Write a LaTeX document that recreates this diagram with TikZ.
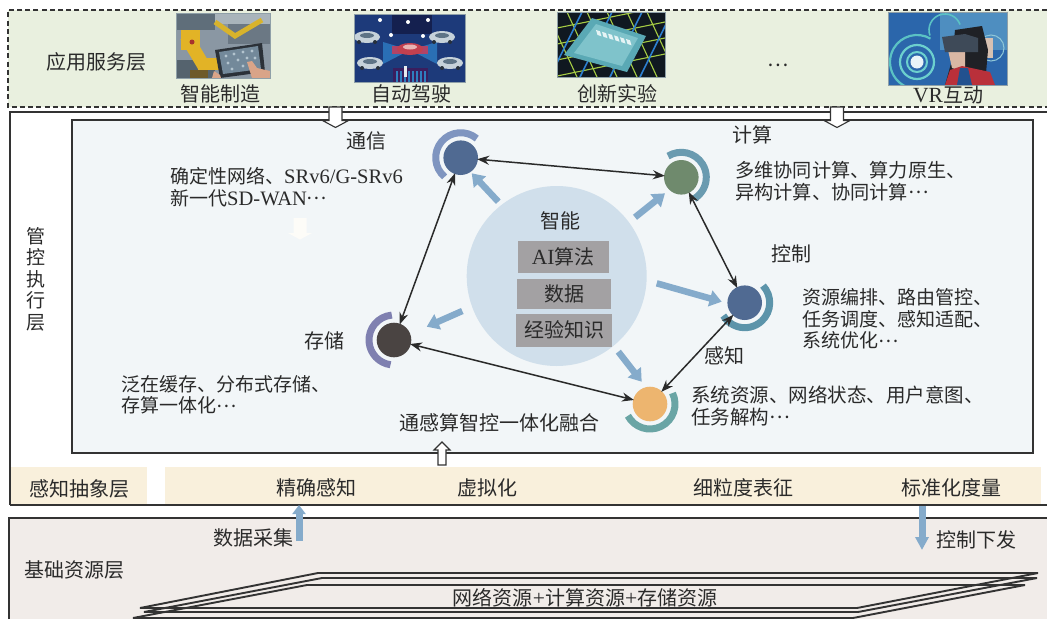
\documentclass[tikz,border=0pt]{standalone}
\usepackage{fontspec}
\usetikzlibrary{arrows.meta,calc}
\setmainfont[Scale=1.08]{Liberation Serif}
\newfontfamily\cjk{Noto Sans CJK SC}
\newcommand{\C}[1]{{\cjk #1}}
\newcommand{\Dots}{\raisebox{.27em}{\C{…}}}
\definecolor{txtc}{HTML}{2A2A2A}
\definecolor{linec}{HTML}{333333}
\definecolor{appbg}{HTML}{E9F0DF}
\definecolor{innerbg}{HTML}{F2F6F8}
\definecolor{barbg}{HTML}{F9F0DC}
\definecolor{basebg}{HTML}{F1ECE9}
\definecolor{bluearrow}{HTML}{85ABCB}
\definecolor{bigc}{HTML}{D0DFEB}
\definecolor{greyb}{HTML}{A3A1A3}
\tikzset{
  HTML/.code={\definecolor{tmpc}{HTML}{#1}\pgfkeysalso{color=tmpc}},
  lbl/.style={font=\fontsize{19}{21.5}\selectfont,text=txtc,inner sep=0pt,align=left},
  ttl/.style={font=\fontsize{20}{21.5}\selectfont,text=txtc,inner sep=0pt},
  hub/.style={circle,minimum size=34.6pt,inner sep=0pt,fill,HTML=#1},
  ring/.style={line width=7pt,HTML=#1},
  link/.style={{Stealth[length=12pt,width=9pt]}-{Stealth[length=12pt,width=9pt]},line width=1.5pt,draw=txtc,shorten >=-1pt,shorten <=-1pt},
  flow/.style={-{Triangle[length=12pt,width=16pt]},line width=6.5pt,draw=bluearrow},
  greybox/.style={fill=greyb,inner sep=0pt,font=\fontsize{20}{21.5}\selectfont,text=txtc},
  hollow/.style={draw=linec,line width=1.1pt,fill=white},
  layer/.style={draw=linec,line width=1.9pt,line join=miter},
}
\begin{document}
\begin{tikzpicture}[x=1pt,y=1pt]
\path[use as bounding box] (0,0) rectangle (1047,-619);
\fill[white] (0,0) rectangle (1047,-619);

% application layer
\fill[appbg] (8,-10) rectangle (1047,-107);
\draw[linec,line width=1.5pt,dash pattern=on 5pt off 3.2pt] (1047,-10) -- (8,-10) -- (8,-107) -- (1047,-107);

% outer management frame
\draw[linec,line width=1.5pt] (1047,-112) -- (10,-112) -- (10,-505);
\fill[barbg] (11,-467) rectangle (147,-504);
\fill[barbg] (165,-467) rectangle (1041,-504);
\draw[linec,line width=2.2pt] (10,-505) -- (1047,-505);
\draw[linec,line width=2pt,fill=innerbg] (72,-120) rectangle (1033,-453);

% base layer
\fill[basebg] (9,-518) rectangle (1047,-619);
\draw[linec,line width=2pt] (9,-619) -- (9,-518) -- (1047,-518);

% picture 1
\begin{scope}
\clip (176,-13) rectangle (270,-78);
\fill[HTML=8A97A3] (176,-13) rectangle (270,-78);
\fill[HTML=5F6E7A] (176,-13) rectangle (215,-30);
\fill[HTML=A9B4BB] (215,-13) rectangle (270,-24);
\fill[HTML=55636E] (176,-60) rectangle (215,-78);
\fill[HTML=6B7884] (228,-24) rectangle (270,-44);
\draw[HTML=D8B32C,line width=5pt] (215,-22) -- (235,-36) -- (262,-20);
\draw[HTML=E2B326,line width=13pt] (186,-36) -- (205,-68);
\fill[HTML=E2B326] (181,-30) rectangle (200,-50);
\fill[HTML=A8322C] (192,-42) circle (2.5);
\fill[HTML=E2B326] (198,-58) rectangle (222,-70);
\fill[HTML=6E5A2A] (190,-70) rectangle (208,-78);
\fill[HTML=2B3138] (215,-50) -- (262,-43) -- (265,-72) -- (220,-78) -- cycle;
\fill[HTML=73899A] (219,-52) -- (258,-46) -- (261,-69) -- (223,-74) -- cycle;
\foreach \a/\b in {226/-56,234/-54,243/-52,252/-51,228/-63,238/-60,247/-58,255/-58,232/-69,243/-66}
  \fill[HTML=B3C4CE] (\a,\b) circle (1.7);
\fill[HTML=D9A488] (247,-62) -- (252,-61) -- (257,-68) -- (270,-71) -- (270,-78) -- (252,-78) -- cycle;
\fill[HTML=D9A488] (212,-78) -- (214,-71) -- (220,-75) -- (221,-78) -- cycle;
\end{scope}

% picture 2
\begin{scope}
\clip (354,-14) rectangle (465,-82);
\fill[HTML=1D3A7A] (354,-14) rectangle (465,-82);
\fill[HTML=14204F] (392,-14) rectangle (432,-34);
\fill[HTML=2A6FB5] (410,-50) -- (383,-42) -- (383,-64) -- cycle;
\fill[HTML=2A6FB5] (410,-50) -- (437,-42) -- (437,-64) -- cycle;
\fill[HTML=B04468] (392,-46) rectangle (428,-54);
\fill[HTML=3A1E5E] (393,-68) rectangle (428,-82);
\foreach \a in {396,400,404,408,412,416,420,424}
  \fill[HTML=2E7FBF] (\a,-71) rectangle (\a+1.5,-82);
\foreach \a/\b in {367/-37,442/-37,370/-63,450/-63}{
  \fill[HTML=C6D2DA] (\a,\b) ellipse (13 and 6);
  \fill[HTML=5E7486] (\a,\b+1.5) ellipse (7 and 2.5);
  \fill[HTML=26303C] (\a-8,\b-5) circle (2);
  \fill[HTML=26303C] (\a+8,\b-5) circle (2);
}
\fill[HTML=C2404F] (410,-49) ellipse (13 and 6);
\fill[HTML=E8B4B4] (410,-47) ellipse (7 and 2.5);
\foreach \a/\b in {380/-20,408/-22,428/-20,391/-35,423/-36}
  \fill[white] (\a,\b) circle (2);
\fill[HTML=E8ECEF] (403.5,-66) rectangle (406.5,-77);
\end{scope}

% picture 3
\begin{scope}
\clip (557,-12) rectangle (665,-77);
\fill[HTML=101820] (557,-12) rectangle (665,-77);
\foreach \a in {-10,10,30,50,70,90,110}
  \draw[HTML=A6CC44,line width=1.1pt] (557+\a,-12) -- (557+\a+30,-77);
\foreach \a in {0,16,32,48,64}
  \draw[HTML=A6CC44,line width=1.1pt] (557,-12-\a) -- (665,-12-\a+22);
\foreach \a in {5,35,65,95}
  \draw[HTML=2D7FD0,line width=1.6pt] (557+\a+20,-12) -- (557+\a-12,-77);
\fill[HTML=5AA9B5] (592,-18) -- (646,-36) -- (627,-72) -- (564,-55) -- cycle;
\fill[HTML=7FC3CB] (596,-24) -- (638,-38) -- (622,-66) -- (574,-53) -- cycle;
\foreach \a in {0,6,12,18,24,30}
  \fill[HTML=E6F4F5] (596+\a,-30-0.3*\a) -- ++(4,-1.3) -- ++(1.5,-5) -- ++(-4,1.3) -- cycle;
\end{scope}

% picture 4
\begin{scope}
\clip (888,-12) rectangle (1007,-85);
\fill[HTML=2B66AB] (888,-12) rectangle (1007,-85);
\fill[HTML=4E8EC0] (940,-12) rectangle (1007,-50);
\draw[HTML=6CD0CE,line width=2pt] (917,-62) circle (10);
\draw[HTML=6CD0CE,line width=2.2pt] (917,-62) circle (17);
\draw[HTML=5BC2C4,line width=2.2pt] (917,-62) ++(60:27) arc (60:250:27);
\draw[HTML=5BC2C4,line width=1.6pt] (945,-30) ++(20:16) arc (20:200:16);
\fill[HTML=E9F3F8] (917,-62) circle (6.5);
\fill[HTML=D7C1B2] (985,-38) rectangle (993,-58);
\draw[HTML=8FC7D8,line width=1pt] (991,-48) circle (13);
\fill[HTML=1F2126] (955,-30) -- (982,-26) -- (988,-50) -- (985,-85) -- (945,-85) -- (952,-60) -- cycle;
\fill[HTML=D9B7A4] (948,-50) -- (965,-50) -- (965,-72) -- (952,-68) -- cycle;
\fill[HTML=B9303A] (945,-85) -- (950,-70) -- (962,-66) -- (990,-72) -- (995,-85) -- cycle;
\fill[HTML=22518F] (957,-85) -- (960,-68) -- (968,-68) -- (972,-85) -- cycle;
\fill[HTML=3E4A58] (942,-37) -- (965,-34) -- (978,-38) -- (978,-52) -- (945,-52) -- cycle;
\end{scope}
\foreach \a/\b/\c/\d in {176/13/270/78,354/14/465/82,557/12/665/77,888/12/1007/85}
  \draw[HTML=8FA0A8,line width=.5pt] (\a,-\b) rectangle (\c,-\d);

% application text
\node[ttl] (tapp) at (96.5,-62) {\C{应用服务层}};
\node[ttl] (t1) at (220,-94) {\C{智能制造}};
\node[ttl] (t2) at (411,-94) {\C{自动驾驶}};
\node[ttl] (t3) at (617,-94) {\C{创新实验}};
\node[ttl] (t4) at (948,-95) {VR\C{互动}};
\node[ttl] (tdots) at (778,-65) {\C{…}};

% hollow arrows
\draw[hollow] (329,-107) -- (342,-107) -- (342,-120.5) -- (348.5,-120.5) -- (335.5,-127.5) -- (322.5,-120.5) -- (329,-120.5) -- cycle;
\draw[hollow] (830.5,-107) -- (843.5,-107) -- (843.5,-120.5) -- (850,-120.5) -- (837,-127.5) -- (824,-120.5) -- (830.5,-120.5) -- cycle;
\draw[hollow] (438,-465) -- (446,-465) -- (446,-450) -- (450,-450) -- (442,-442) -- (434,-450) -- (438,-450) -- cycle;

% faint white arrow
\fill[HTML=FDFCF8] (293.5,-218) -- (306.5,-218) -- (306.5,-233) -- (312,-233) -- (300,-239.5) -- (288,-233) -- (293.5,-233) -- cycle;

\node[lbl,align=center] (tmgmt) at (35.5,-279) {\C{管}\\\C{控}\\\C{执}\\\C{行}\\\C{层}};

% central circle
\node[circle,minimum size=180pt,inner sep=0pt,fill=bigc] (big) at (556.7,-276) {};
\node[ttl] (tzn) at (560,-221) {\C{智能}};
\node[greybox,minimum width=91pt,minimum height=31.5pt] (g1) at (563.2,-257) {AI\C{算法}};
\node[greybox,minimum width=94.6pt,minimum height=30pt] (g2) at (564,-293.7) {\C{数据}};
\node[greybox,minimum width=96.6pt,minimum height=32.6pt] (g3) at (564,-330.3) {\C{经验知识}};

% hubs
\node[hub=506A92] (com) at (460.7,-157.7) {};
\node[hub=6F8A6D] (cal) at (681.3,-177.3) {};
\node[hub=506A92] (ctl) at (744.7,-302.7) {};
\node[hub=EDB56F] (sen) at (650,-404) {};
\node[hub=4A4442] (sto) at (394,-340) {};
\draw[ring=7F95C0] (com.center) ++(50:25) arc (50:230:25);
\draw[ring=6A9BB0] (cal.center) ++(122:25) arc (122:-59:25);
\draw[ring=5C94AA] (ctl.center) ++(43:25) arc (43:-149:25);
\draw[ring=6AA5A5] (sen.center) ++(26:25) arc (26:-152:25);
\draw[ring=7F80B0] (sto.center) ++(95:25) arc (95:262:25);

% links
\draw[link] (com) -- (cal);
\draw[link] (cal) -- (ctl);
\draw[link] (ctl) -- (sen);
\draw[link] (sen) -- (sto);
\draw[link] (sto) -- (com);

% flows
\coordinate (f1a) at (498.3,-201.7); \coordinate (f1b) at (471.7,-173.3);
\coordinate (f2a) at (635,-217.3);   \coordinate (f2b) at (665,-193.3);
\coordinate (f3a) at (656.7,-283.3); \coordinate (f3b) at (721.7,-301.7);
\coordinate (f4a) at (618.3,-351.7); \coordinate (f4b) at (641.7,-381.7);
\coordinate (f5a) at (462.3,-311);   \coordinate (f5b) at (426.7,-326.7);
\draw[flow] (f1a) -- (f1b);
\draw[flow] (f2a) -- (f2b);
\draw[flow] (f3a) -- (f3b);
\draw[flow] (f4a) -- (f4b);
\draw[flow] (f5a) -- (f5b);

% inner text
\node[ttl] (tcom) at (366,-141) {\C{通信}};
\node[ttl] (tcal) at (752,-135) {\C{计算}};
\node[ttl] (tctl) at (791,-254) {\C{控制}};
\node[ttl] (tsen) at (724,-356) {\C{感知}};
\node[ttl] (tsto) at (324,-341) {\C{存储}};
\node[lbl,anchor=west] (dcom) at (170,-187) {\C{确定性网络、}SRv6/G-SRv6\\\C{新一代}SD-WAN\Dots};
\node[lbl,anchor=west,font=\fontsize{19.2}{21.5}\selectfont] (dcal) at (735,-181) {\C{多维协同计算、算力原生、}\\\C{异构计算、协同计算}\Dots};
\node[lbl,anchor=west] (dctl) at (802,-319) {\C{资源编排、路由管控、}\\\C{任务调度、感知适配、}\\\C{系统优化}\Dots};
\node[lbl,anchor=west,font=\fontsize{19.5}{21.5}\selectfont] (dsen) at (691,-406) {\C{系统资源、网络状态、用户意图、}\\\C{任务解构}\Dots};
\node[lbl,anchor=west] (dsto) at (121,-395) {\C{泛在缓存、分布式存储、}\\\C{存算一体化}\Dots};
\node[ttl] (tfus) at (499.5,-423) {\C{通感算智控一体化融合}};

% abstraction bar
\node[ttl] (tabs) at (79,-489) {\C{感知抽象层}};
\node[ttl] (tb1) at (316,-488) {\C{精确感知}};
\node[ttl] (tb2) at (487,-488) {\C{虚拟化}};
\node[ttl] (tb3) at (743,-488) {\C{细粒度表征}};
\node[ttl] (tb4) at (951,-488) {\C{标准化度量}};

% base
\coordinate (upa) at (299,-541); \coordinate (upb) at (299,-505);
\coordinate (dna) at (922,-506); \coordinate (dnb) at (922,-550);
\draw[-{Triangle[length=9pt,width=13pt]},line width=7pt,draw=bluearrow] (upa) -- (upb);
\draw[-{Triangle[length=13pt,width=13pt]},line width=7pt,draw=bluearrow] (dna) -- (dnb);
\node[ttl] (tcol) at (253,-538) {\C{数据采集}};
\node[ttl] (tdwn) at (976,-540) {\C{控制下发}};
\node[ttl] (tbase) at (74,-570) {\C{基础资源层}};

\begin{scope}
\clip (0,0) rectangle (1047,-619);
\draw[layer] (307,-585) -- (1025,-585) -- (853,-618) -- (133,-618) -- cycle;
\draw[layer] (322,-578) -- (1037,-578) -- (858,-612) -- (144,-612) -- cycle;
\draw[layer] (318,-573) -- (1038,-573) -- (857,-608) -- (140,-608) -- cycle;
\end{scope}
\node[ttl] (tres) at (585,-598) {\C{网络资源}+\C{计算资源}+\C{存储资源}};
\end{tikzpicture}
\end{document}
